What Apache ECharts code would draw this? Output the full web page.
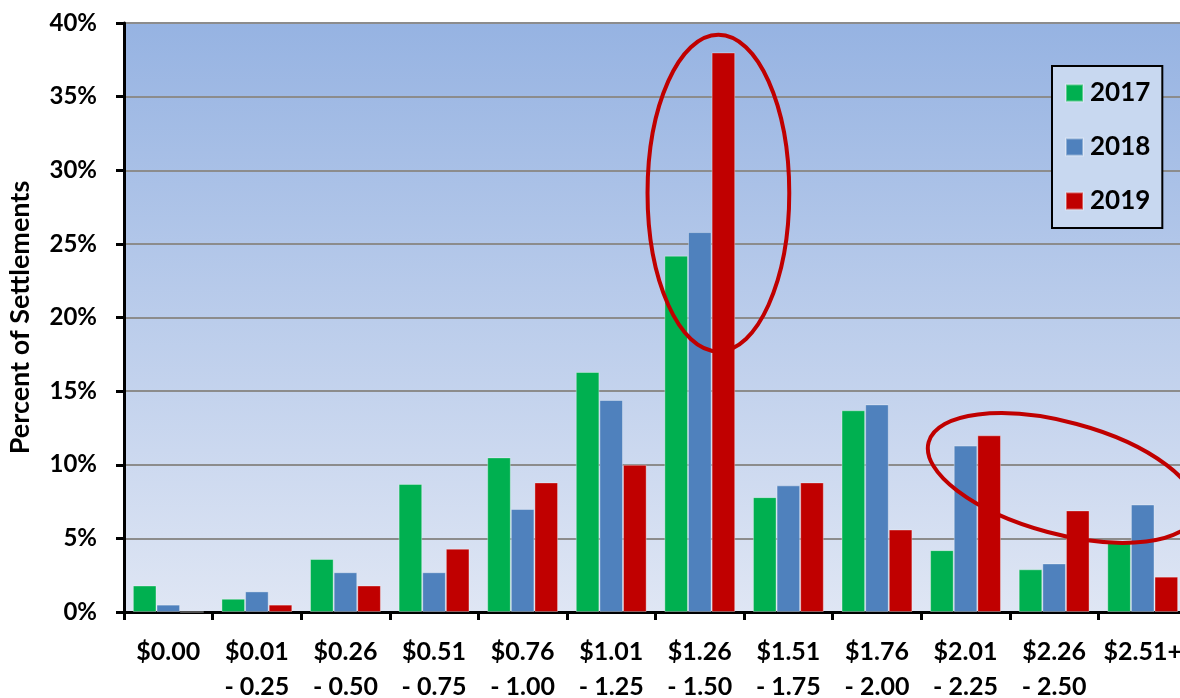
<!DOCTYPE html>
<html>
<head>
<meta charset="utf-8">
<script src="https://cdn.jsdelivr.net/npm/echarts@6/dist/echarts.min.js"></script>
<style>
  html, body { margin: 0; padding: 0; background: #fff; }
  #chart { width: 1180px; height: 698px; }
</style>
</head>
<body>
<div id="chart"></div>
<script>
// settlement price buckets
const categories = [
  '$0.00', '$0.01\n- 0.25', '$0.26\n- 0.50', '$0.51\n- 0.75', '$0.76\n- 1.00', '$1.01\n- 1.25',
  '$1.26\n- 1.50', '$1.51\n- 1.75', '$1.76\n- 2.00', '$2.01\n- 2.25', '$2.26\n- 2.50', '$2.51+'
]
const years = ['2017', '2018', '2019']
const values2017 = [1.8, 0.9, 3.6, 8.7, 10.5, 16.3, 24.2, 7.8, 13.7, 4.2, 2.9, 4.7]
const values2018 = [0.5, 1.4, 2.7, 2.7, 7.0, 14.4, 25.8, 8.6, 14.1, 11.3, 3.3, 7.3]
const values2019 = [0, 0.5, 1.8, 4.3, 8.8, 10.0, 38.0, 8.8, 5.6, 12.0, 6.9, 2.4]
const yTicks = [0, 5, 10, 15, 20, 25, 30, 35, 40]

// red rings drawn over the chart: centre [category, percent], radii in categories / percent
const rings = [
  { at: [6, 28.45], shift: 0.21, rx: 0.8, ry: 10.75, tilt: 0 },
  { at: [10, 9.1], shift: 0.09, rx: 1.56, ry: 3.8, tilt: -15 }
]

const colors = ['#00b050', '#4f81bd', '#c00000']
const font = 'Lato, "DejaVu Sans", sans-serif'

const chart = echarts.init(document.getElementById('chart'))

const barSeries = [values2017, values2018, values2019].map((data, i) => ({
  name: years[i],
  type: 'bar',
  data: data,
  barGap: '0%',
  barCategoryGap: '20%',
  itemStyle: {
    color: colors[i],
    borderColor: 'rgba(255,255,255,0.35)',
    borderWidth: 1
  }
}))

chart.setOption({
  animation: false,
  backgroundColor: '#ffffff',
  grid: {
    left: 124,
    top: 23,
    width: 1063,
    height: 589,
    outerBoundsMode: 'none',
    containLabel: false,
    show: true,
    borderWidth: 0,
    backgroundColor: new echarts.graphic.LinearGradient(0, 0, 0, 1, [
      { offset: 0, color: '#96b3e2' },
      { offset: 1, color: '#dfe6f4' }
    ])
  },
  legend: {
    orient: 'vertical',
    left: 1052,
    top: 66,
    data: years,
    icon: 'rect',
    itemWidth: 17,
    itemHeight: 17,
    itemGap: 28,
    padding: [14, 12, 14, 13],
    backgroundColor: '#c8d8f0',
    borderColor: '#000',
    borderWidth: 2,
    textStyle: { fontFamily: font, fontWeight: 'bold', fontSize: 26, color: '#000', padding: [0, 0, 0, 2] }
  },
  xAxis: {
    type: 'category',
    data: categories,
    axisLine: { lineStyle: { color: '#000', width: 3 } },
    axisTick: { show: true, length: 8, lineStyle: { color: '#000', width: 3 } },
    axisLabel: {
      margin: 22,
      interval: 0,
      hideOverlap: false,
      fontFamily: font,
      fontWeight: 'bold',
      fontSize: 25,
      lineHeight: 35,
      color: '#000'
    }
  },
  yAxis: {
    type: 'value',
    min: 0,
    max: 40,
    interval: 5,
    name: 'Percent of Settlements',
    nameLocation: 'middle',
    nameGap: 90,
    nameTextStyle: { fontFamily: font, fontWeight: 'bold', fontSize: 27, color: '#000' },
    axisLine: { show: true, lineStyle: { color: '#000', width: 3 } },
    axisTick: { show: true, length: 8, lineStyle: { color: '#000', width: 3 } },
    axisLabel: {
      margin: 27,
      fontFamily: font,
      fontWeight: 'bold',
      fontSize: 24,
      color: '#000',
      formatter: v => (yTicks.indexOf(v) >= 0 ? v + '%' : '')
    },
    splitLine: { lineStyle: { color: '#8c8c8c', width: 2 } }
  },
  series: barSeries
})

// place the highlight rings with the axes' own scales
const step = chart.convertToPixel({ gridIndex: 0 }, [1, 0])[0] - chart.convertToPixel({ gridIndex: 0 }, [0, 0])[0]
const perPct = chart.convertToPixel({ gridIndex: 0 }, [0, 0])[1] - chart.convertToPixel({ gridIndex: 0 }, [0, 1])[1]
chart.setOption({
  graphic: rings.map(r => {
    const p = chart.convertToPixel({ gridIndex: 0 }, r.at)
    return {
      type: 'ellipse',
      x: p[0] + r.shift * step,
      y: p[1],
      rotation: r.tilt * Math.PI / 180,
      z: 100,
      shape: { cx: 0, cy: 0, rx: r.rx * step, ry: r.ry * perPct },
      style: { fill: 'none', stroke: '#c00000', lineWidth: 4 }
    }
  })
})
</script>
</body>
</html>
